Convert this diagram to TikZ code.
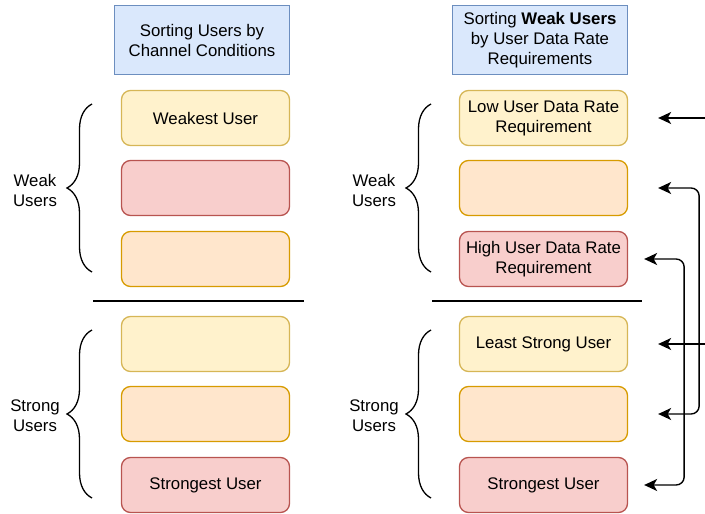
\documentclass[tikz,border=0pt]{standalone}
\usepackage{fontspec}
\setmainfont{Liberation Sans}
\usetikzlibrary{arrows.meta,decorations.pathreplacing}
\definecolor{yelF}{HTML}{FFF2CC}\definecolor{yelD}{HTML}{D6B656}
\definecolor{redF}{HTML}{F8CECC}\definecolor{redD}{HTML}{B85450}
\definecolor{oraF}{HTML}{FFE6CC}\definecolor{oraD}{HTML}{D79B00}
\definecolor{bluF}{HTML}{DAE8FC}\definecolor{bluD}{HTML}{6C8EBF}
\tikzset{
  every node/.style={font=\fontsize{16.8}{20}\selectfont, align=center},
  box/.style={rounded corners=9pt, line width=1.3pt, minimum width=168pt, minimum height=55pt, inner sep=0pt},
  yel/.style={box, fill=yelF, draw=yelD},
  red/.style={box, fill=redF, draw=redD},
  ora/.style={box, fill=oraF, draw=oraD},
  titlebox/.style={fill=bluF, draw=bluD, line width=1.3pt, minimum width=175pt, minimum height=69pt, inner sep=0pt},
  grp/.style={decorate, decoration={brace, amplitude=25pt, aspect=0.5}, line width=1.3pt},
  sep/.style={line width=1.4pt},
  tip/.style={Stealth[length=13pt,width=12pt,inset=3.5pt]},
  arr/.style={line width=1.4pt, -{Stealth[length=13pt,width=12pt,inset=3.5pt]}},
  darr/.style={line width=1.4pt, rounded corners=8pt, {Stealth[length=13pt,width=12pt,inset=3.5pt]}-{Stealth[length=13pt,width=12pt,inset=3.5pt]}},
}
\begin{document}
\begin{tikzpicture}[x=1pt,y=-1pt]
\useasboundingbox (0,0) rectangle (705,514);
% titles
\node[titlebox] (t1) at (202,40) {Sorting Users by\\Channel Conditions};
\node[titlebox] (t2) at (540,40) {Sorting \textbf{Weak Users}\\by User Data Rate\\Requirements};
% left column
\node[yel] (l1) at (205.5,118) {Weakest User};
\node[red] (l2) at (205.5,188) {};
\node[ora] (l3) at (205.5,259) {};
\node[yel] (l4) at (205.5,344) {};
\node[ora] (l5) at (205.5,414) {};
\node[red] (l6) at (205.5,485) {Strongest User};
% right column
\node[yel] (r1) at (543.5,118) {Low User Data Rate\\Requirement};
\node[ora] (r2) at (543.5,188) {};
\node[red] (r3) at (543.5,259) {High User Data Rate\\Requirement};
\node[yel] (r4) at (543.5,344) {Least Strong User};
\node[ora] (r5) at (543.5,414) {};
\node[red] (r6) at (543.5,485) {Strongest User};
% separators
\draw[sep] (93,301) -- (304,301);
\draw[sep] (432,301) -- (642,301);
% braces and labels
\draw[grp] (92,272) -- (92,104);
\draw[grp] (92,498) -- (92,330);
\draw[grp] (431,272) -- (431,104);
\draw[grp] (431,498) -- (431,330);
\node (wl) at (35,190) {Weak\\Users};
\node (sl) at (35,416) {Strong\\Users};
\node (wr) at (374,190) {Weak\\Users};
\node (sr) at (374,416) {Strong\\Users};
% arrows
\coordinate (e1) at (712,118);
\coordinate (e4) at (712,344);
\draw[arr, shorten >=30pt] (e1) -- (r1.east);
\draw[arr, shorten >=30pt] (e4) -- (r4.east);
\draw[darr, shorten <=30pt, shorten >=30pt] (r2.east) -- ++(71,0) |- (r5.east);
\draw[darr, shorten <=16pt, shorten >=16pt] (r3.east) -- ++(56,0) |- (r6.east);
\end{tikzpicture}
\end{document}
